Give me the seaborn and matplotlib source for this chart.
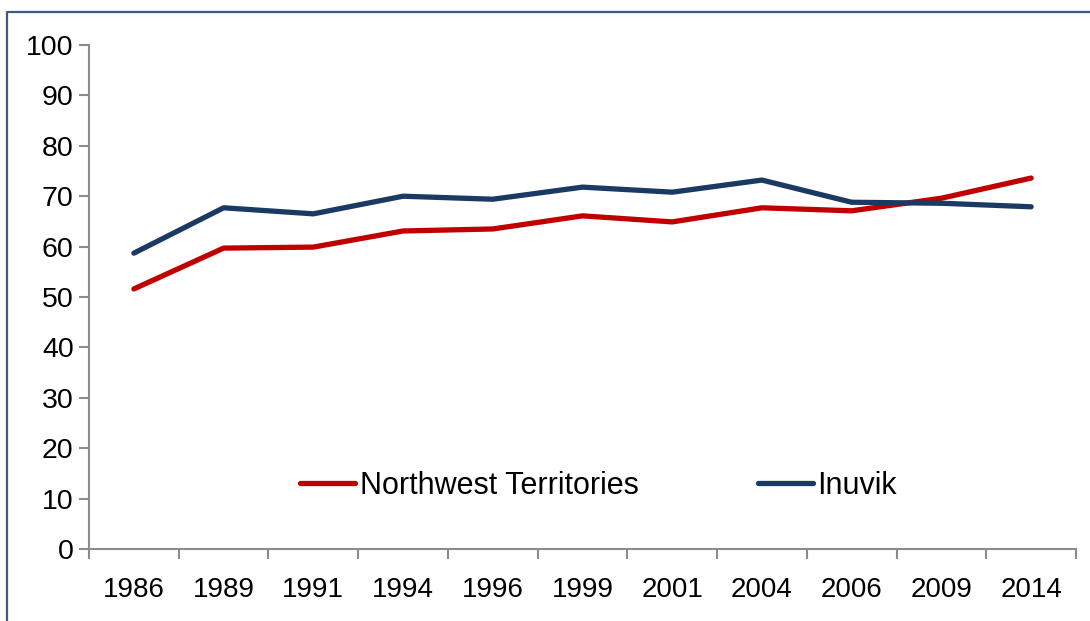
import numpy as np
import pandas as pd
import matplotlib
matplotlib.use("Agg")
import matplotlib.pyplot as plt
from matplotlib.lines import Line2D
import seaborn as sns

# du lieu doc tu hinh
years = ["1986", "1989", "1991", "1994", "1996", "1999", "2001", "2004", "2006", "2009", "2014"]
nwt = [51.6, 59.7, 59.9, 63.1, 63.5, 66.1, 64.9, 67.7, 67.1, 69.6, 73.6]
inuvik = [58.7, 67.7, 66.5, 70.0, 69.4, 71.8, 70.8, 73.2, 68.8, 68.6, 67.9]
series_names = ["Northwest Territories", "Inuvik"]
series_colors = ["#C00000", "#1B3A63"]

sns.set_style("white")
plt.rcParams['font.family'] = ['Liberation Sans', 'DejaVu Sans']

pos = np.arange(len(years))
df = pd.concat([
    pd.DataFrame({"pos": pos, "value": nwt, "series": series_names[0]}),
    pd.DataFrame({"pos": pos, "value": inuvik, "series": series_names[1]}),
])

fig = plt.figure(figsize=(10.9, 6.21), dpi=100)
ax = fig.add_axes([89 / 1090, 72 / 621, (1076 - 89) / 1090, (549 - 45) / 621])

sns.lineplot(data=df, x="pos", y="value", hue="series", hue_order=series_names,
             palette=series_colors, linewidth=3.8, ax=ax, legend=True,
             solid_capstyle="round")

ax.set_xlim(-0.5, len(years) - 0.5)
ax.set_ylim(0, 100)
ax.set_yticks(np.arange(0, 101, 10))
ax.set_xticks(np.arange(-0.5, len(years), 1.0))
ax.set_xticklabels([])
ax.set_xticks(pos, minor=True)
ax.set_xticklabels(years, minor=True)
ax.set_xlabel("")
ax.set_ylabel("")

spine_col = "#8C8C8C"
for s in ["top", "right"]:
    ax.spines[s].set_visible(False)
for s in ["left", "bottom"]:
    ax.spines[s].set_color(spine_col)
    ax.spines[s].set_linewidth(1.5)

ax.tick_params(axis="y", which="major", direction="out", length=7, width=1.5,
               color=spine_col, labelsize=20.5, labelcolor="black", pad=4, left=True)
ax.tick_params(axis="x", which="major", direction="out", length=7, width=1.5,
               color=spine_col, bottom=True)
ax.tick_params(axis="x", which="minor", length=0, labelsize=20, labelcolor="black", pad=20)

leg = ax.legend(loc="center", bbox_to_anchor=(0.516, 0.125), ncol=2, frameon=False,
                fontsize=22, handlelength=1.8, handletextpad=0.16, columnspacing=3.9)
for t in leg.get_texts():
    t.set_color("black")
for h in leg.get_lines():
    h.set_linewidth(3.8)
    h.set_solid_capstyle("round")

# khung vien ben ngoai
bx = 7 / 1090
by = 1 - 12 / 621
fig.add_artist(Line2D([bx, bx, 1.0], [0.0, by, by], transform=fig.transFigure,
                      color="#3D5B86", linewidth=1.6))

fig.savefig("out.png", dpi=100)
